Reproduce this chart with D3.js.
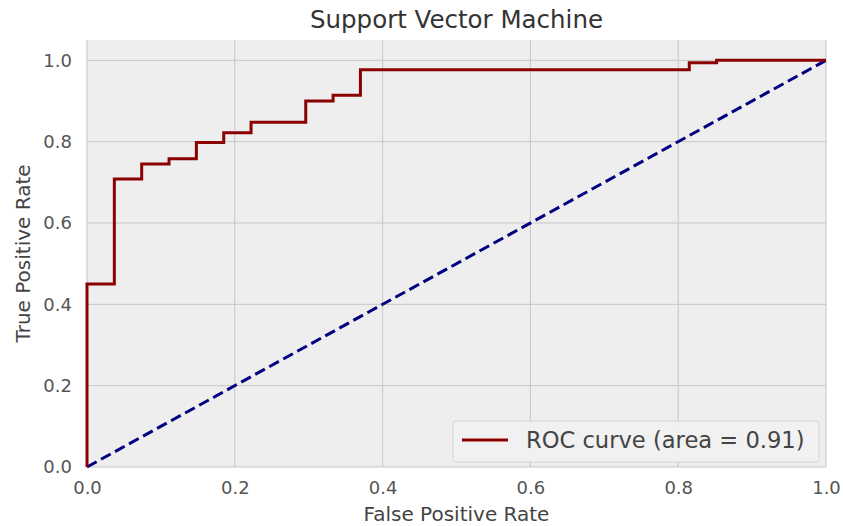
<!DOCTYPE html>
<html>
<head>
<meta charset="utf-8">
<script src="https://cdn.jsdelivr.net/npm/d3@7/dist/d3.min.js"></script>
<style>
  html, body { margin: 0; padding: 0; background: #fff; }
  svg { display: block; font-family: "DejaVu Sans", sans-serif; }
</style>
</head>
<body>
<svg id="chart" width="843" height="526"></svg>
<script>
// ROC curve points (false / true positive rate)
const fpr = [0, 0, 0.037, 0.074, 0.111, 0.148, 0.185, 0.222, 0.296, 0.333, 0.370, 0.815, 0.852, 1.0]
const tpr = [0, 0.45, 0.708, 0.745, 0.758, 0.798, 0.822, 0.848, 0.90, 0.914, 0.977, 0.994, 1.0, 1.0]
const chanceX = [0, 1]
const chanceY = [0, 1]
const xTicks = [0, 0.2, 0.4, 0.6, 0.8, 1.0]
const yTicks = [0, 0.2, 0.4, 0.6, 0.8, 1.0]
const title = 'Support Vector Machine'
const legendLabel = 'ROC curve (area = 0.91)'

const COLORS = {
  bg: '#eeeeee',
  grid: '#c6c6c6',
  roc: '#8b0000',
  chance: '#000080',
  text: '#444',
  tick: '#555',
}

const box = { left: 87, right: 826, top: 40, bottom: 467 }

const x = d3.scaleLinear().domain([0, 1]).range([box.left, box.right])
const y = d3.scaleLinear().domain([0, 1.05]).range([box.bottom, box.top])

const svg = d3.select('#chart')

svg.append('rect')
  .attr('x', box.left)
  .attr('y', box.top)
  .attr('width', box.right - box.left)
  .attr('height', box.bottom - box.top)
  .attr('fill', COLORS.bg)

// grid
const grid = svg.append('g').attr('stroke', COLORS.grid).attr('stroke-width', 1)
grid.selectAll('line.v')
  .data(xTicks)
  .join('line')
  .attr('class', 'v')
  .attr('x1', (d) => x(d)).attr('x2', (d) => x(d))
  .attr('y1', box.top).attr('y2', box.bottom)
grid.selectAll('line.h')
  .data(yTicks)
  .join('line')
  .attr('class', 'h')
  .attr('x1', box.left).attr('x2', box.right)
  .attr('y1', (d) => y(d)).attr('y2', (d) => y(d))

// axes (ticks hidden, labels only)
const xAxis = svg.append('g')
  .attr('transform', `translate(0,${box.bottom})`)
  .call(d3.axisBottom(x).tickValues(xTicks).tickFormat(d3.format('.1f')).tickSize(0).tickPadding(14))
const yAxis = svg.append('g')
  .attr('transform', `translate(${box.left},0)`)
  .call(d3.axisLeft(y).tickValues(yTicks).tickFormat(d3.format('.1f')).tickSize(0).tickPadding(15))
;[xAxis, yAxis].forEach((a) => {
  a.select('.domain').remove()
  a.selectAll('text')
    .attr('font-family', 'DejaVu Sans')
    .attr('font-size', 18)
    .attr('fill', COLORS.tick)
})

// chance diagonal
svg.append('path')
  .datum(chanceX.map((d, i) => [d, chanceY[i]]))
  .attr('d', d3.line().x((d) => x(d[0])).y((d) => y(d[1])))
  .attr('fill', 'none')
  .attr('stroke', COLORS.chance)
  .attr('stroke-width', 3)
  .attr('stroke-dasharray', '11 5')

// ROC step curve
svg.append('path')
  .datum(fpr.map((d, i) => [d, tpr[i]]))
  .attr('d', d3.line().curve(d3.curveStepAfter).x((d) => x(d[0])).y((d) => y(d[1])))
  .attr('fill', 'none')
  .attr('stroke', COLORS.roc)
  .attr('stroke-width', 3)

// title + labels
svg.append('text')
  .attr('x', (box.left + box.right) / 2)
  .attr('y', 28)
  .attr('text-anchor', 'middle')
  .attr('font-size', 24.5)
  .attr('fill', '#333')
  .text(title)

svg.append('text')
  .attr('x', (box.left + box.right) / 2)
  .attr('y', 521)
  .attr('text-anchor', 'middle')
  .attr('font-size', 20)
  .attr('fill', COLORS.text)
  .text('False Positive Rate')

svg.append('text')
  .attr('transform', `translate(30,${(box.top + box.bottom) / 2}) rotate(-90)`)
  .attr('text-anchor', 'middle')
  .attr('font-size', 20)
  .attr('fill', COLORS.text)
  .text('True Positive Rate')

// legend
const lg = svg.append('g').attr('transform', 'translate(453,421)')
lg.append('rect')
  .attr('width', 366)
  .attr('height', 41)
  .attr('rx', 3)
  .attr('fill', '#f1f1f1')
  .attr('fill-opacity', 0.9)
  .attr('stroke', '#d4d4d4')
lg.append('line')
  .attr('x1', 9).attr('x2', 55)
  .attr('y1', 19).attr('y2', 19)
  .attr('stroke', COLORS.roc)
  .attr('stroke-width', 3)
lg.append('text')
  .attr('x', 73)
  .attr('y', 27)
  .attr('font-size', 22.6)
  .attr('fill', COLORS.text)
  .text(legendLabel)
</script>
</body>
</html>
